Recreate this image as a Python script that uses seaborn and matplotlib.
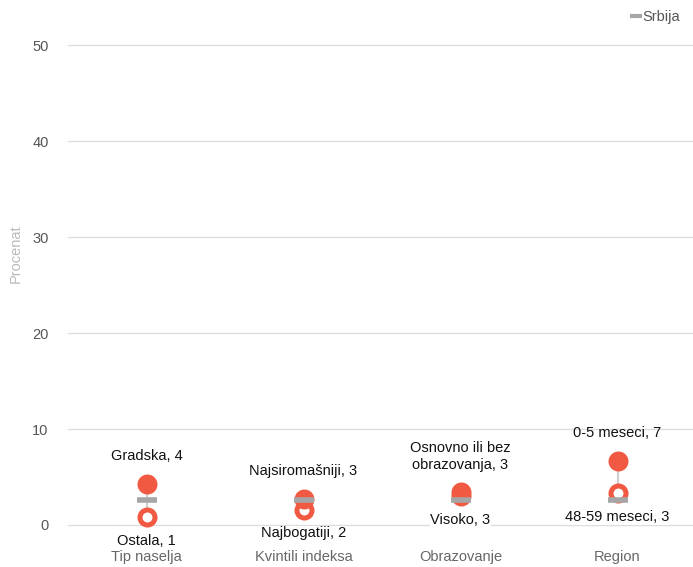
import matplotlib
matplotlib.use("Agg")
import matplotlib.pyplot as plt
from matplotlib.lines import Line2D
import seaborn as sns

# data
categories = ["Tip naselja", "Kvintili indeksa", "Obrazovanje", "Region"]
high_names = ["Gradska", "Najsiromašniji", "Osnovno ili bez\nobrazovanja", "0-5 meseci"]
high_vals = [4.3, 2.7, 3.4, 6.7]
low_names = ["Ostala", "Najbogatiji", "Visoko", "48-59 meseci"]
low_vals = [0.8, 1.6, 3.0, 3.3]
srbija_vals = [2.6, 2.6, 2.6, 2.6]
yticks = [0, 10, 20, 30, 40, 50]

RED = "#F15A42"
GREY = "#A6A6A6"

sns.set_theme(style="white")
plt.rcParams["font.family"] = ["Liberation Sans", "DejaVu Sans"]

fig = plt.figure(figsize=(6.93, 5.67), dpi=100)
ax = fig.add_axes([68 / 693, 42 / 567, 628 / 693, 522 / 567])

# connector lines
ax.vlines(categories, low_vals, high_vals, color="#D0D0D0", lw=1.6, zorder=2)

sns.scatterplot(x=categories, y=low_vals, ax=ax, s=117, color="white",
                edgecolor=RED, linewidth=3.6, zorder=3, clip_on=False)
sns.scatterplot(x=categories, y=high_vals, ax=ax, s=207, color=RED,
                edgecolor=RED, linewidth=0, zorder=4, clip_on=False)
sns.scatterplot(x=categories, y=srbija_vals, ax=ax, marker="_", s=200,
                color=GREY, linewidth=4, zorder=5, clip_on=False)

for i, (name, v) in enumerate(zip(high_names, high_vals)):
    ax.annotate(f"{name}, {v:.0f}", (i, v), xytext=(0, 15), textcoords="offset points",
                ha="center", va="bottom", fontsize=10.5, color="#111111",
                multialignment="center", zorder=6)
for i, (name, v) in enumerate(zip(low_names, low_vals)):
    ax.annotate(f"{name}, {v:.0f}", (i, v), xytext=(0, -12), textcoords="offset points",
                ha="center", va="top", fontsize=10.5, color="#111111", zorder=6,
                annotation_clip=False,
                bbox=dict(boxstyle="square,pad=0.05", fc="white", ec="none"))

ax.set_xlim(-0.5, 3.5)
ax.set_ylim(0, 54.4)
ax.set_yticks(yticks)
ax.grid(axis="y", color="#DDDDDD", lw=1)
for gl in ax.get_ygridlines():
    gl.set_clip_on(False)
ax.set_axisbelow(True)
for sp in ax.spines.values():
    sp.set_visible(False)
ax.tick_params(axis="x", pad=18, labelsize=10.5, labelcolor="#666666", length=0)
ax.tick_params(axis="y", pad=14, labelsize=10.5, labelcolor="#555555", length=0)
ax.set_ylabel("Procenat", color="#BBBBBB", fontsize=10.5)
ax.yaxis.set_label_coords(-0.072, 0.52)
ax.set_xlabel("")

handle = Line2D([], [], color=GREY, marker="_", lw=0, markersize=8, markeredgewidth=3)
leg = ax.legend([handle], ["Srbija"], loc="upper right", bbox_to_anchor=(690 / 693, 1.0),
                bbox_transform=fig.transFigure, frameon=False, fontsize=10.5,
                handlelength=0.6, handletextpad=0.1, borderaxespad=0.3)
for t in leg.get_texts():
    t.set_color("#555555")

fig.savefig("out.png", dpi=100)
